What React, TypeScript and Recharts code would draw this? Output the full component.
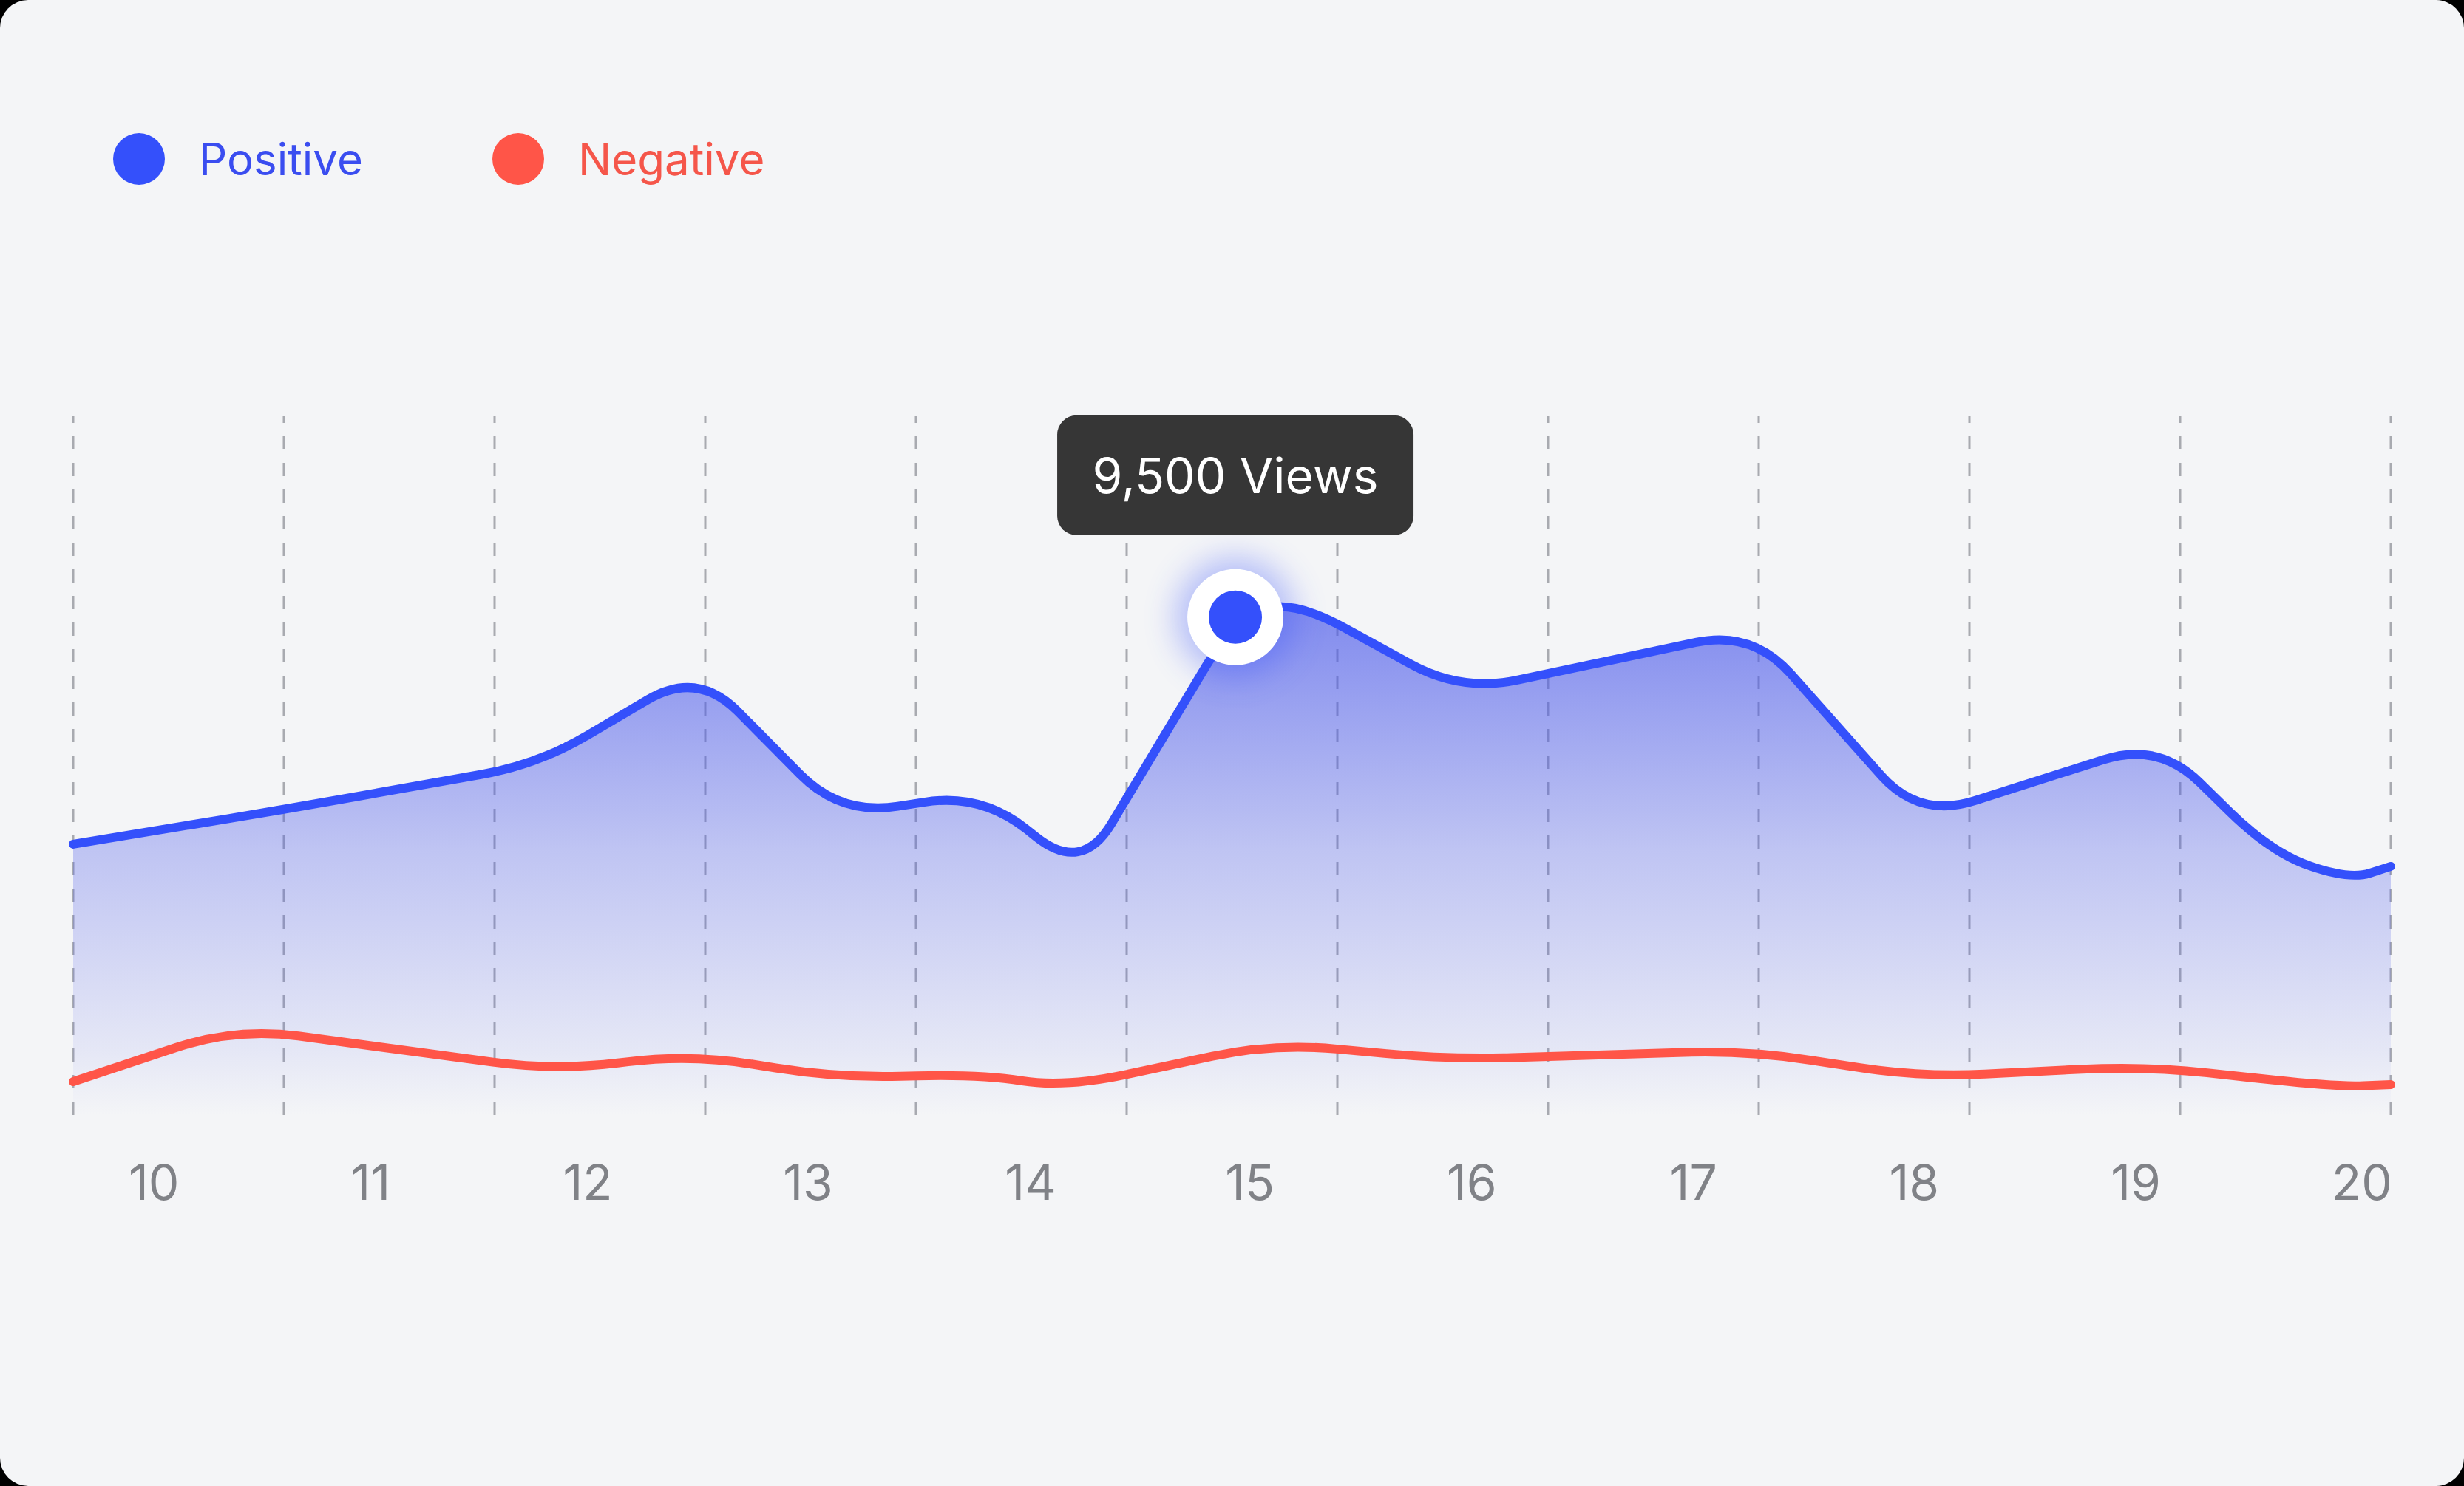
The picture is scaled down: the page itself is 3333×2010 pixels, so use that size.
import React from 'react';
import {
  ComposedChart,
  Area,
  Line,
  XAxis,
  YAxis,
  CartesianGrid,
  ReferenceDot,
  Legend,
} from 'recharts';

// ---- data: polyline vertices (x in grid-column units 0..11, value in views) ----
const positiveX = [0, 1.001, 2.208, 2.962, 3.643, 4.309, 4.787, 5.516, 5.794, 6.59, 7.969, 8.762, 9.898, 10.431, 10.803, 11];
const positiveY = [5173, 5835, 6695, 8485, 5723, 6145, 4623, 9500, 9824, 8076, 9246, 5666, 7118, 5018, 4496, 4750];

const negativeX = [0, 0.773, 2.288, 2.93, 3.629, 4.303, 4.706, 5.699, 6.53, 7.947, 8.775, 9.832, 10.74, 11];
const negativeY = [648, 1677, 860, 1170, 719, 789, 536, 1381, 1071, 1240, 733, 944, 550, 592];

const dayLabels = ['10', '11', '12', '13', '14', '15', '16', '17', '18', '19', '20'];
const dayTickPositions = [0.383, 1.411, 2.442, 3.488, 4.544, 5.585, 6.638, 7.69, 8.738, 9.79, 10.863];
const gridValues = [0, 1, 2, 3, 4, 5, 6, 7, 8, 9, 10, 11];

const highlightIndex = 7;
const seriesNames = ['Positive', 'Negative'];
const BLUE = '#3450fb';
const RED = '#ff5548';
const legendTextColors = ['#3a4df0', '#f5564a'];

const positiveData = positiveX.map((x, i) => ({ x, value: positiveY[i] }));
const negativeData = negativeX.map((x, i) => ({ x, value: negativeY[i] }));

const FONT = 'Inter, "Noto Sans", sans-serif';

// Curve factory: straight segments joined by rounded corners (quadratic), d3-shape compatible.
function roundedPolyline(radius: number) {
  return function (context: any) {
    let pts: number[][] = [];
    let line = NaN;
    return {
      areaStart() {
        line = 0;
      },
      areaEnd() {
        line = NaN;
      },
      lineStart() {
        pts = [];
      },
      lineEnd() {
        const n = pts.length;
        if (n > 0) {
          if (line) context.lineTo(pts[0][0], pts[0][1]);
          else context.moveTo(pts[0][0], pts[0][1]);
          for (let i = 1; i < n - 1; i++) {
            const [x0, y0] = pts[i - 1];
            const [x1, y1] = pts[i];
            const [x2, y2] = pts[i + 1];
            const d1 = Math.hypot(x1 - x0, y1 - y0);
            const d2 = Math.hypot(x2 - x1, y2 - y1);
            if (d1 < 1e-6 || d2 < 1e-6) {
              context.lineTo(x1, y1);
              continue;
            }
            const r1 = Math.min(radius, d1 / 2);
            const r2 = Math.min(radius, d2 / 2);
            const ax = x1 - ((x1 - x0) / d1) * r1;
            const ay = y1 - ((y1 - y0) / d1) * r1;
            const bx = x1 + ((x2 - x1) / d2) * r2;
            const by = y1 + ((y2 - y1) / d2) * r2;
            context.lineTo(ax, ay);
            context.quadraticCurveTo(x1, y1, bx, by);
          }
          if (n > 1) context.lineTo(pts[n - 1][0], pts[n - 1][1]);
        }
        if (line || (line !== 0 && n === 1)) context.closePath();
        line = 1 - line;
      },
      point(x: number, y: number) {
        pts.push([+x, +y]);
      },
    };
  };
}

const blueCurve = roundedPolyline(78);
const redCurve = roundedPolyline(85);

const LegendContent = (props: any) => {
  const payload = (props.payload || [])
    .filter((e: any) => e.type !== 'none' && seriesNames.includes(e.value))
    .sort((a: any, b: any) => seriesNames.indexOf(a.value) - seriesNames.indexOf(b.value));
  return (
    <div style={{ display: 'flex', alignItems: 'center', fontFamily: FONT }}>
      {payload.map((entry: any, i: number) => (
        <div
          key={entry.value}
          style={{ display: 'flex', alignItems: 'center', width: i === 0 ? 513 : 'auto' }}
        >
          <div
            style={{
              width: 70,
              height: 70,
              borderRadius: 35,
              background: entry.color,
              marginRight: 46,
            }}
          />
          <span
            style={{
              fontSize: 60,
              lineHeight: 1,
              color: legendTextColors[seriesNames.indexOf(entry.value)],
            }}
          >
            {entry.value}
          </span>
        </div>
      ))}
    </div>
  );
};

const HighlightMarker = (props: any) => {
  const { cx, cy } = props;
  if (cx == null || cy == null) return null;
  const value = positiveY[highlightIndex];
  const label = `${value.toLocaleString('en-US')} Views`;
  const boxW = 482;
  const boxH = 162;
  return (
    <g>
      <circle cx={cx} cy={cy} r={80} fill={BLUE} opacity={0.35} filter="url(#glow)" />
      <circle cx={cx} cy={cy} r={65} fill="#ffffff" />
      <circle cx={cx} cy={cy} r={36} fill={BLUE} />
      <rect x={cx - boxW / 2} y={cy - 273} width={boxW} height={boxH} rx={26} ry={26} fill="#363636" />
      <text
        x={cx}
        y={cy - 192}
        textAnchor="middle"
        dominantBaseline="central"
        fill="#ffffff"
        fontSize={66}
        fontFamily={FONT}
      >
        {label}
      </text>
    </g>
  );
};

export default function App() {
  return (
    <div
      style={{
        position: 'absolute',
        left: 0,
        top: 0,
        width: 3333,
        height: 2010,
        background: '#000000',
        fontFamily: FONT,
      }}
    >
      <div
        style={{
          position: 'absolute',
          left: 0,
          top: 0,
          width: 3333,
          height: 2010,
          background: '#f4f5f7',
          borderRadius: 38,
          overflow: 'hidden',
        }}
      >
        <ComposedChart
          width={3333}
          height={2010}
          margin={{ top: 563, right: 99, bottom: 351, left: 99 }}
        >
          <defs>
            <linearGradient id="posFill" x1="0" y1="0" x2="0" y2="1">
              <stop offset="0%" stopColor="#4a58ea" stopOpacity={0.68} />
              <stop offset="48%" stopColor="#4a58ea" stopOpacity={0.31} />
              <stop offset="87%" stopColor="#4a58ea" stopOpacity={0.09} />
              <stop offset="100%" stopColor="#4a58ea" stopOpacity={0.0} />
            </linearGradient>
            <filter id="glow" x="-100%" y="-100%" width="300%" height="300%">
              <feGaussianBlur stdDeviation="22" />
            </filter>
          </defs>
          <CartesianGrid
            horizontal={false}
            vertical
            verticalValues={gridValues}
            stroke="#a8aab0"
            strokeWidth={3}
            strokeDasharray="18 18"
            strokeDashoffset={9}
          />
          <XAxis
            dataKey="x"
            type="number"
            domain={[0, 11]}
            ticks={dayTickPositions}
            interval={0}
            tickFormatter={(v: number) => dayLabels[dayTickPositions.indexOf(v)] ?? ''}
            axisLine={false}
            tickLine={false}
            tickSize={0}
            tickMargin={67}
            height={150}
            tick={{ fill: '#808287', fontSize: 66, fontFamily: FONT }}
          />
          <YAxis type="number" domain={[0, 13330]} hide />
          <Area
            data={positiveData}
            dataKey="value"
            type={blueCurve as any}
            stroke="none"
            fill="url(#posFill)"
            fillOpacity={1}
            legendType="none"
            isAnimationActive={false}
            dot={false}
            activeDot={false}
          />
          <Line
            data={negativeData}
            dataKey="value"
            name={seriesNames[1]}
            type={redCurve as any}
            stroke={RED}
            strokeWidth={12}
            strokeLinecap="round"
            strokeLinejoin="round"
            dot={false}
            activeDot={false}
            isAnimationActive={false}
          />
          <Line
            data={positiveData}
            dataKey="value"
            name={seriesNames[0]}
            type={blueCurve as any}
            stroke={BLUE}
            strokeWidth={12}
            strokeLinecap="round"
            strokeLinejoin="round"
            dot={false}
            activeDot={false}
            isAnimationActive={false}
          />
          <ReferenceDot
            x={positiveX[highlightIndex]}
            y={positiveY[highlightIndex]}
            r={36}
            shape={(p: any) => <HighlightMarker {...p} />}
            ifOverflow="visible"
          />
          <Legend
            layout="horizontal"
            verticalAlign="middle"
            align="center"
            wrapperStyle={{ top: 180, left: 153, width: 'auto', height: 'auto' }}
            content={(p: any) => <LegendContent {...p} />}
          />
        </ComposedChart>
      </div>
    </div>
  );
}
